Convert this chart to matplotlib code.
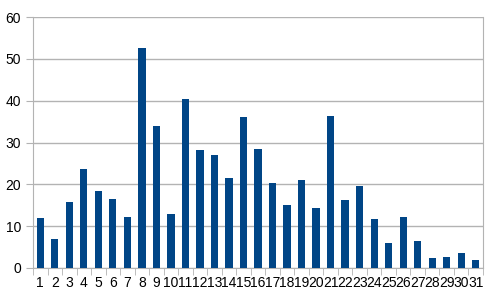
import matplotlib
matplotlib.use("Agg")
import matplotlib.pyplot as plt
import numpy as np

categories = [str(i) for i in range(1, 32)]
values = [12.0, 7.0, 15.8, 23.6, 18.5, 16.4, 12.2, 52.7, 34.0, 12.8, 40.4,
          28.1, 27.0, 21.6, 36.0, 28.5, 20.4, 15.1, 21.0, 14.3, 36.4, 16.3,
          19.5, 11.6, 5.9, 12.2, 6.5, 2.4, 2.6, 3.6, 1.8]
yticks = [0, 10, 20, 30, 40, 50, 60]

plt.rcParams['font.family'] = ['Liberation Sans', 'DejaVu Sans']
fig = plt.figure(figsize=(5, 3), dpi=100)
ax = fig.add_axes([0.066, 0.107, 0.900, 0.836])
x = np.arange(len(categories))
ax.bar(x, values, width=0.5, color='#004586', zorder=3)
ax.set_xlim(-0.5, len(categories) - 0.5)
ax.set_ylim(0, 60)
ax.set_yticks(yticks)
ax.set_xticks(x)
ax.set_xticklabels(categories, fontsize=10)
ax.set_xticks(np.arange(-0.5, len(categories), 1), minor=True)
ax.tick_params(axis='x', which='major', length=0, pad=6)
ax.tick_params(axis='x', which='minor', length=5, color='#b3b3b3', direction='out')
ax.tick_params(axis='y', length=5, color='#b3b3b3', labelsize=10)
ax.yaxis.grid(True, color='#b3b3b3', linewidth=1, zorder=0)
for s in ['left', 'bottom', 'right']:
    ax.spines[s].set_color('#b3b3b3')
ax.spines['top'].set_visible(False)
fig.savefig('out.png', dpi=100)
